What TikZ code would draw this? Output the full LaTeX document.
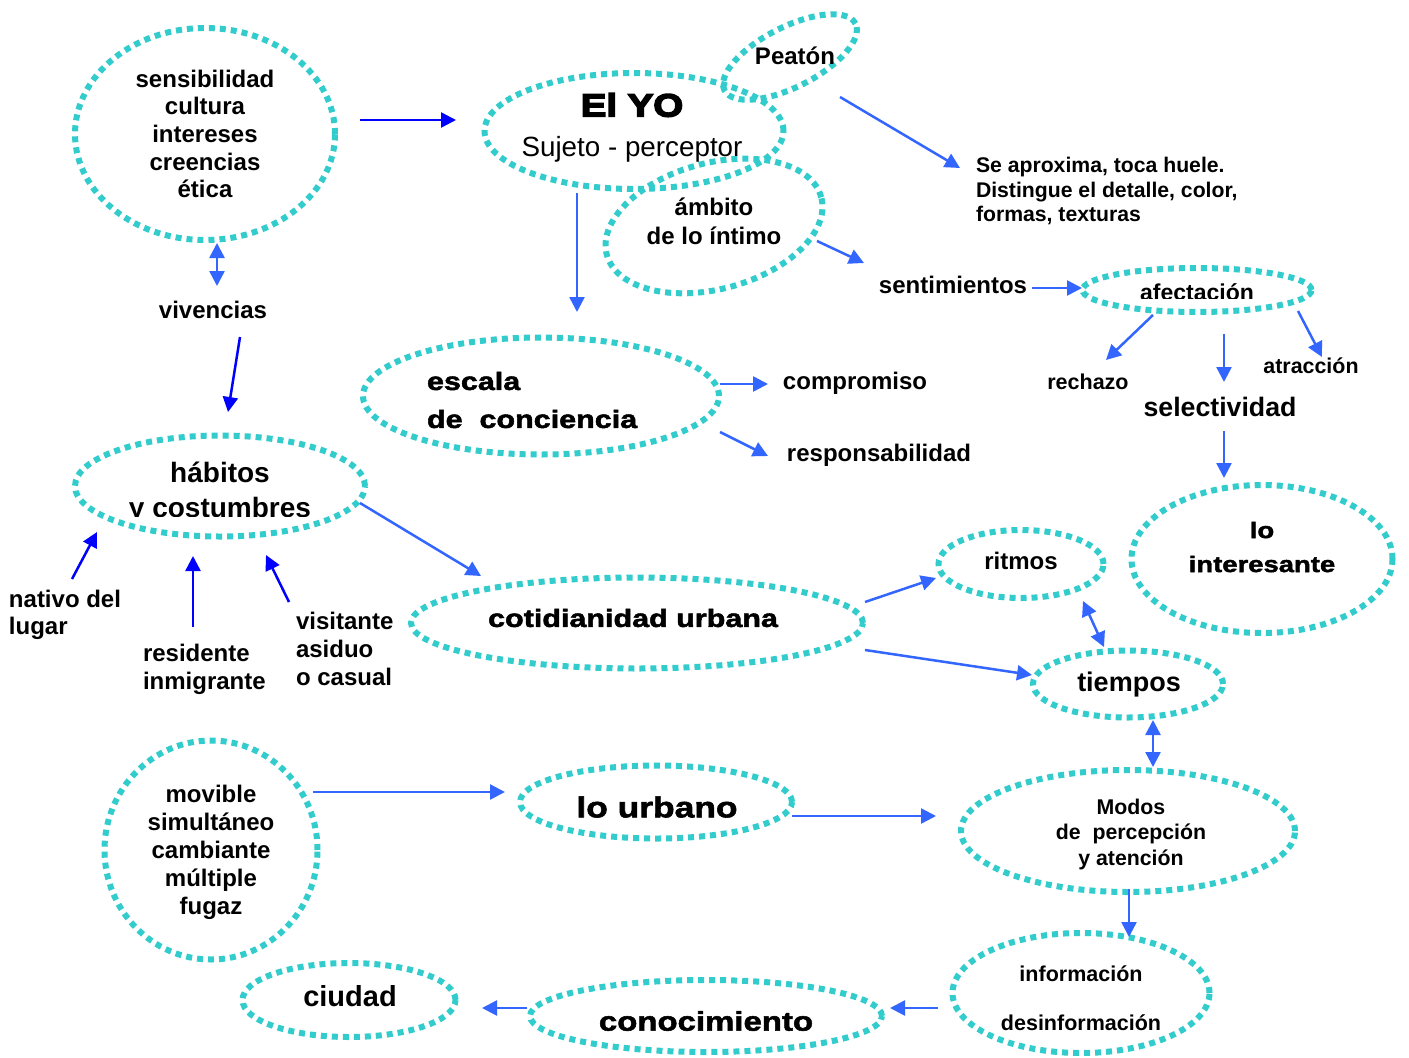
\documentclass[tikz,border=0pt]{standalone}
\usepackage{fontspec}
\setmainfont{Liberation Sans}
\newfontfamily\heavy{Liberation Sans Bold}[FakeBold=2,FakeStretch=1.22]
\newfontfamily\heavier{Liberation Sans Bold}[FakeBold=5,FakeStretch=1.2]
\usetikzlibrary{shapes.geometric,arrows.meta}
\definecolor{dotc}{HTML}{33CCCC}
\definecolor{arr}{HTML}{3366FF}
\definecolor{darr}{HTML}{0000FF}
\newcommand\fsz[2]{\fontsize{#1}{#2}\selectfont}
\tikzset{
  bub/.style={ellipse, draw=dotc, line width=6pt, dash pattern=on 6pt off 5pt, inner sep=0pt, outer sep=0pt},
  txt/.style={inner sep=0pt, outer sep=0pt, align=center, text=black},
  ar/.style={draw=arr, line width=2.5pt, -{Triangle[length=15pt,width=15pt]}},
  dar/.style={ar, draw=darr},
  dbl/.style={draw=arr, line width=2.5pt, {Triangle[length=15pt,width=15pt]}-{Triangle[length=15pt,width=15pt]}},
}
\begin{document}
\begin{tikzpicture}[x=1pt,y=-1pt]
\useasboundingbox (0,0) rectangle (1409,1058);
\fill[white] (0,0) rectangle (1409,1058);

% ellipses
\node[bub, minimum width=260pt, minimum height=212pt] (e_sens) at (205,134) {};
\node[bub, minimum width=299pt, minimum height=116pt] (e_yo) at (634,131) {};
\node[bub, minimum width=147pt, minimum height=60pt, rotate=27] (e_peat) at (790,57) {};
\node[bub, minimum width=222pt, minimum height=126pt, rotate=15] (e_amb) at (714,226) {};
\node[bub, minimum width=356pt, minimum height=117pt] (e_esc) at (541,396) {};
\node[bub, minimum width=229pt, minimum height=44pt] (e_afec) at (1197,290) {};
\node[bub, minimum width=261pt, minimum height=148pt] (e_int) at (1262,559) {};
\node[bub, minimum width=290pt, minimum height=101pt] (e_hab) at (220,486) {};
\node[bub, minimum width=452pt, minimum height=91pt] (e_cot) at (637,623) {};
\node[bub, minimum width=165pt, minimum height=68pt] (e_rit) at (1021,564) {};
\node[bub, minimum width=190pt, minimum height=67pt] (e_tie) at (1128,684) {};
\node[bub, minimum width=334pt, minimum height=122pt] (e_mod) at (1128,831) {};
\node[bub, minimum width=213pt, minimum height=219pt] (e_mov) at (211,850) {};
\node[bub, minimum width=272pt, minimum height=73pt] (e_urb) at (656,802) {};
\node[bub, minimum width=257pt, minimum height=120pt] (e_info) at (1081,993) {};
\node[bub, minimum width=213pt, minimum height=74pt] (e_ciu) at (349,1000) {};
\node[bub, minimum width=352pt, minimum height=72pt] (e_con) at (706,1016) {};

% texts
\node[txt, font=\bfseries\fsz{24}{27.7}] (t_sens) at (205,134) {sensibilidad\\cultura\\intereses\\creencias\\ética};
\node[txt, font=\heavier\fsz{32}{36}] (t_yo) at (632,105) {El YO};
\node[txt, font=\fsz{27.8}{30}] (t_suj) at (632,149) {Sujeto - perceptor};
\node[txt, font=\bfseries\fsz{24}{26}] (t_peat) at (795,56) {Peatón};
\node[txt, font=\bfseries\fsz{24}{29}] (t_amb) at (714,221) {ámbito\\de lo íntimo};
\node[txt, anchor=west, align=left, font=\bfseries\fsz{21.2}{24.5}] (t_se) at (976,191) {Se aproxima, toca huele.\\Distingue el detalle, color,\\formas, texturas};
\node[txt, font=\bfseries\fsz{24}{27}] (t_sent) at (953,285) {sentimientos};
\begin{scope}
  \clip (1100,270) rectangle (1300,298.5);
  \node[txt, anchor=base, font=\bfseries\fsz{23}{27}] (t_afec) at (1197,300) {afectación};
\end{scope}
\node[txt, font=\bfseries\fsz{21.5}{24}] (t_rech) at (1088,382) {rechazo};
\node[txt, font=\bfseries\fsz{21.4}{24}] (t_atr) at (1311,366) {atracción};
\node[txt, font=\bfseries\fsz{26.7}{29}] (t_sel) at (1220,407) {selectividad};
\node[txt, font=\heavy\fsz{22.5}{34}] (t_int) at (1262,547) {lo\\interesante};
\node[txt, anchor=west, align=left, font=\heavy\fsz{25}{38}] (t_esc) at (427,400) {escala\\de\ \ conciencia};
\node[txt, font=\bfseries\fsz{24}{27}] (t_comp) at (855,383) {compromiso};
\node[txt, font=\bfseries\fsz{24}{27}] (t_resp) at (879,455) {responsabilidad};
\node[txt, font=\bfseries\fsz{24}{27}] (t_viv) at (213,310) {vivencias};
\node[txt, anchor=base, font=\bfseries\fsz{28}{32}] (t_hab) at (220,482) {hábitos};
\begin{scope}
  \clip (60,440) rectangle (380,516.5);
  \node[txt, anchor=base, font=\bfseries\fsz{28}{32}] (t_cost) at (220,517.5) {y costumbres};
\end{scope}
\node[txt, anchor=west, align=left, font=\bfseries\fsz{24}{27}] (t_nat) at (9,615) {nativo del\\lugar};
\node[txt, anchor=west, align=left, font=\bfseries\fsz{24}{28}] (t_res) at (143,669) {residente\\inmigrante};
\node[txt, anchor=west, align=left, font=\bfseries\fsz{24}{28}] (t_vis) at (296,649) {visitante\\asiduo\\o casual};
\node[txt, font=\heavy\fsz{25}{28}] (t_cot) at (633,618) {cotidianidad urbana};
\node[txt, font=\bfseries\fsz{24}{26}] (t_rit) at (1021,561) {ritmos};
\node[txt, font=\bfseries\fsz{27}{30}] (t_tie) at (1129,685) {tiempos};
\node[txt, font=\bfseries\fsz{21.3}{25.5}] (t_mod) at (1131,834) {Modos\\de\ \ percepción\\y atención};
\node[txt, font=\bfseries\fsz{24}{28}] (t_mov) at (211,852) {movible\\simultáneo\\cambiante\\múltiple\\fugaz};
\node[txt, font=\heavy\fsz{29}{32}] (t_urb) at (657,807) {lo urbano};
\node[txt, font=\bfseries\fsz{21.5}{49}] (t_info) at (1081,998) {información\\desinformación};
\node[txt, font=\bfseries\fsz{29}{32}] (t_ciu) at (350,996) {ciudad};
\node[txt, font=\heavy\fsz{27}{30}] (t_con) at (706,1021) {conocimiento};

% connector end points
\coordinate (c1a) at (360,120);  \coordinate (c1b) at (456,120);
\coordinate (c2a) at (217,243);  \coordinate (c2b) at (217,286);
\coordinate (c3a) at (240,337);  \coordinate (c3b) at (228,412);
\coordinate (c4a) at (577,193);  \coordinate (c4b) at (577,312);
\coordinate (c5a) at (840,97);   \coordinate (c5b) at (960,168);
\coordinate (c6a) at (817,241);  \coordinate (c6b) at (864,263);
\coordinate (c7a) at (1032,288); \coordinate (c7b) at (1082,288);
\coordinate (c8a) at (1153,315); \coordinate (c8b) at (1106,360);
\coordinate (c9a) at (1224,334); \coordinate (c9b) at (1224,382);
\coordinate (c10a) at (1298,311); \coordinate (c10b) at (1322,357);
\coordinate (c11a) at (1224,431); \coordinate (c11b) at (1224,478);
\coordinate (c12a) at (720,384); \coordinate (c12b) at (768,384);
\coordinate (c13a) at (720,432); \coordinate (c13b) at (768,456);
\coordinate (c14a) at (360,503); \coordinate (c14b) at (481,576);
\coordinate (c15a) at (72,579);  \coordinate (c15b) at (97,532);
\coordinate (c16a) at (193,627); \coordinate (c16b) at (193,556);
\coordinate (c17a) at (289,602); \coordinate (c17b) at (266,555);
\coordinate (c18a) at (865,602); \coordinate (c18b) at (936,578);
\coordinate (c19a) at (865,650); \coordinate (c19b) at (1032,675);
\coordinate (c20a) at (1083,601); \coordinate (c20b) at (1104,647);
\coordinate (c21a) at (1153,720); \coordinate (c21b) at (1153,767);
\coordinate (c22a) at (313,792); \coordinate (c22b) at (505,792);
\coordinate (c23a) at (792,816); \coordinate (c23b) at (936,816);
\coordinate (c24a) at (1129,889); \coordinate (c24b) at (1129,937);
\coordinate (c25a) at (938,1008); \coordinate (c25b) at (890,1008);
\coordinate (c26a) at (527,1008); \coordinate (c26b) at (482,1008);

% connectors
\draw[dar] (c1a) -- (c1b);
\draw[dbl] (c2a) -- (c2b);
\draw[dar] (c3a) -- (c3b);
\draw[ar] (c4a) -- (c4b);
\draw[ar] (c5a) -- (c5b);
\draw[ar] (c6a) -- (c6b);
\draw[ar] (c7a) -- (c7b);
\draw[ar] (c8a) -- (c8b);
\draw[ar] (c9a) -- (c9b);
\draw[ar] (c10a) -- (c10b);
\draw[ar] (c11a) -- (c11b);
\draw[ar] (c12a) -- (c12b);
\draw[ar] (c13a) -- (c13b);
\draw[ar] (c14a) -- (c14b);
\draw[dar] (c15a) -- (c15b);
\draw[dar] (c16a) -- (c16b);
\draw[dar] (c17a) -- (c17b);
\draw[ar] (c18a) -- (c18b);
\draw[ar] (c19a) -- (c19b);
\draw[dbl] (c20a) -- (c20b);
\draw[dbl] (c21a) -- (c21b);
\draw[ar] (c22a) -- (c22b);
\draw[ar] (c23a) -- (c23b);
\draw[ar] (c24a) -- (c24b);
\draw[ar] (c25a) -- (c25b);
\draw[ar] (c26a) -- (c26b);
\end{tikzpicture}
\end{document}
